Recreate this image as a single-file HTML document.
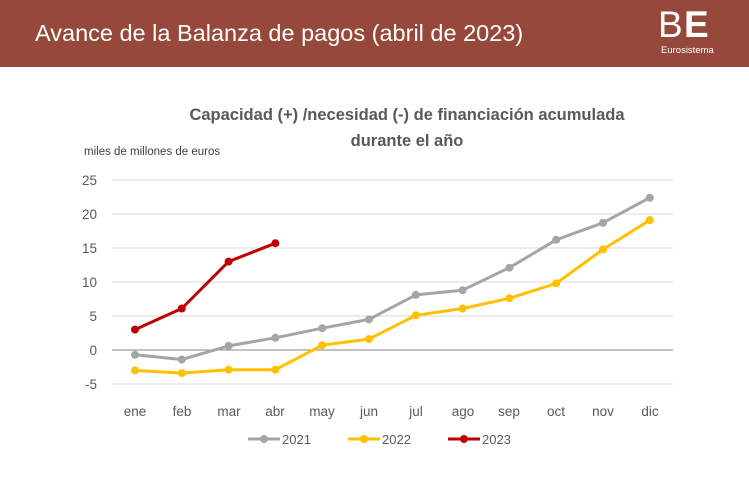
<!DOCTYPE html>
<html><head><meta charset="utf-8"><style>
body{margin:0;width:749px;height:499px;background:#fff;overflow:hidden;font-family:"Liberation Sans",sans-serif}
.hdr{position:absolute;left:0;top:0;width:749px;height:67px;background:#96483a}
</style></head><body>
<div class="hdr"></div>
<svg width="749" height="499" style="position:absolute;left:0;top:0">
<text x="35" y="41" fill="#fff" font-size="23.5" font-family="Liberation Sans">Avance de la Balanza de pagos (abril de 2023)</text>
<text x="658" y="37" fill="#fff" font-size="37" font-family="Liberation Sans" letter-spacing="-2">B</text>
<text x="684" y="37" fill="#fff" font-size="37" font-family="Liberation Sans" font-weight="bold">E</text>
<text x="661" y="53" fill="#fff" font-size="9.5">Eurosistema</text>
<g font-family="Liberation Sans" font-weight="bold" fill="#595959" font-size="16.5" text-anchor="middle">
<text x="407" y="120">Capacidad (+) /necesidad (-) de financiación acumulada</text>
<text x="407" y="146">durante el año</text>
</g>
<text x="84" y="155" font-size="11.5" fill="#404040">miles de millones de euros</text>
<g stroke="#d9d9d9" stroke-width="1">
<line x1="112" x2="673" y1="180" y2="180"/><line x1="112" x2="673" y1="214" y2="214"/>
<line x1="112" x2="673" y1="248" y2="248"/><line x1="112" x2="673" y1="282" y2="282"/>
<line x1="112" x2="673" y1="316" y2="316"/><line x1="112" x2="673" y1="384" y2="384"/>
</g>
<line x1="112" x2="673" y1="350" y2="350" stroke="#868686"/>
<g font-size="13.5" fill="#595959" text-anchor="end">
<text x="97" y="185">25</text><text x="97" y="219">20</text><text x="97" y="253">15</text>
<text x="97" y="287">10</text><text x="97" y="321">5</text><text x="97" y="355">0</text><text x="97" y="389">-5</text>
</g>
<g font-size="13.5" fill="#595959" text-anchor="middle">
<text x="135" y="416">ene</text><text x="182" y="416">feb</text><text x="229" y="416">mar</text><text x="275" y="416">abr</text>
<text x="322" y="416">may</text><text x="369" y="416">jun</text><text x="416" y="416">jul</text><text x="463" y="416">ago</text>
<text x="509" y="416">sep</text><text x="556" y="416">oct</text><text x="603" y="416">nov</text><text x="650" y="416">dic</text>
</g>
<g fill="none" stroke-width="3" stroke-linejoin="round">
<polyline stroke="#a5a5a5" points="135,354.8 181.8,359.5 228.6,345.9 275.4,337.8 322.2,328.2 369,319.4 415.8,294.9 462.6,290.2 509.4,267.7 556.2,239.8 603,222.8 649.8,197.7"/>
<polyline stroke="#ffc000" points="135,370.4 181.8,373.1 228.6,369.7 275.4,369.7 322.2,345.2 369,339.1 415.8,315.3 462.6,308.5 509.4,298.3 556.2,283.4 603,249.4 649.8,220.1"/>
<polyline stroke="#c00000" points="135,329.6 181.8,308.5 228.6,261.6 275.4,243.2"/>
</g>
<g fill="#a5a5a5"><circle cx="135" cy="354.8" r="4"/><circle cx="181.8" cy="359.5" r="4"/><circle cx="228.6" cy="345.9" r="4"/><circle cx="275.4" cy="337.8" r="4"/><circle cx="322.2" cy="328.2" r="4"/><circle cx="369" cy="319.4" r="4"/><circle cx="415.8" cy="294.9" r="4"/><circle cx="462.6" cy="290.2" r="4"/><circle cx="509.4" cy="267.7" r="4"/><circle cx="556.2" cy="239.8" r="4"/><circle cx="603" cy="222.8" r="4"/><circle cx="649.8" cy="197.7" r="4"/></g>
<g fill="#ffc000"><circle cx="135" cy="370.4" r="4"/><circle cx="181.8" cy="373.1" r="4"/><circle cx="228.6" cy="369.7" r="4"/><circle cx="275.4" cy="369.7" r="4"/><circle cx="322.2" cy="345.2" r="4"/><circle cx="369" cy="339.1" r="4"/><circle cx="415.8" cy="315.3" r="4"/><circle cx="462.6" cy="308.5" r="4"/><circle cx="509.4" cy="298.3" r="4"/><circle cx="556.2" cy="283.4" r="4"/><circle cx="603" cy="249.4" r="4"/><circle cx="649.8" cy="220.1" r="4"/></g>
<g fill="#c00000"><circle cx="135" cy="329.6" r="4"/><circle cx="181.8" cy="308.5" r="4"/><circle cx="228.6" cy="261.6" r="4"/><circle cx="275.4" cy="243.2" r="4"/></g>
<g stroke-width="3">
<line x1="248" x2="280" y1="439" y2="439" stroke="#a5a5a5"/><circle cx="264" cy="439" r="4" fill="#a5a5a5"/>
<line x1="348" x2="380" y1="439" y2="439" stroke="#ffc000"/><circle cx="364" cy="439" r="4" fill="#ffc000"/>
<line x1="448" x2="480" y1="439" y2="439" stroke="#c00000"/><circle cx="464" cy="439" r="4" fill="#c00000"/>
</g>
<g font-size="13" fill="#595959">
<text x="282" y="444">2021</text><text x="382" y="444">2022</text><text x="482" y="444">2023</text>
</g>
</svg>
</body></html>
